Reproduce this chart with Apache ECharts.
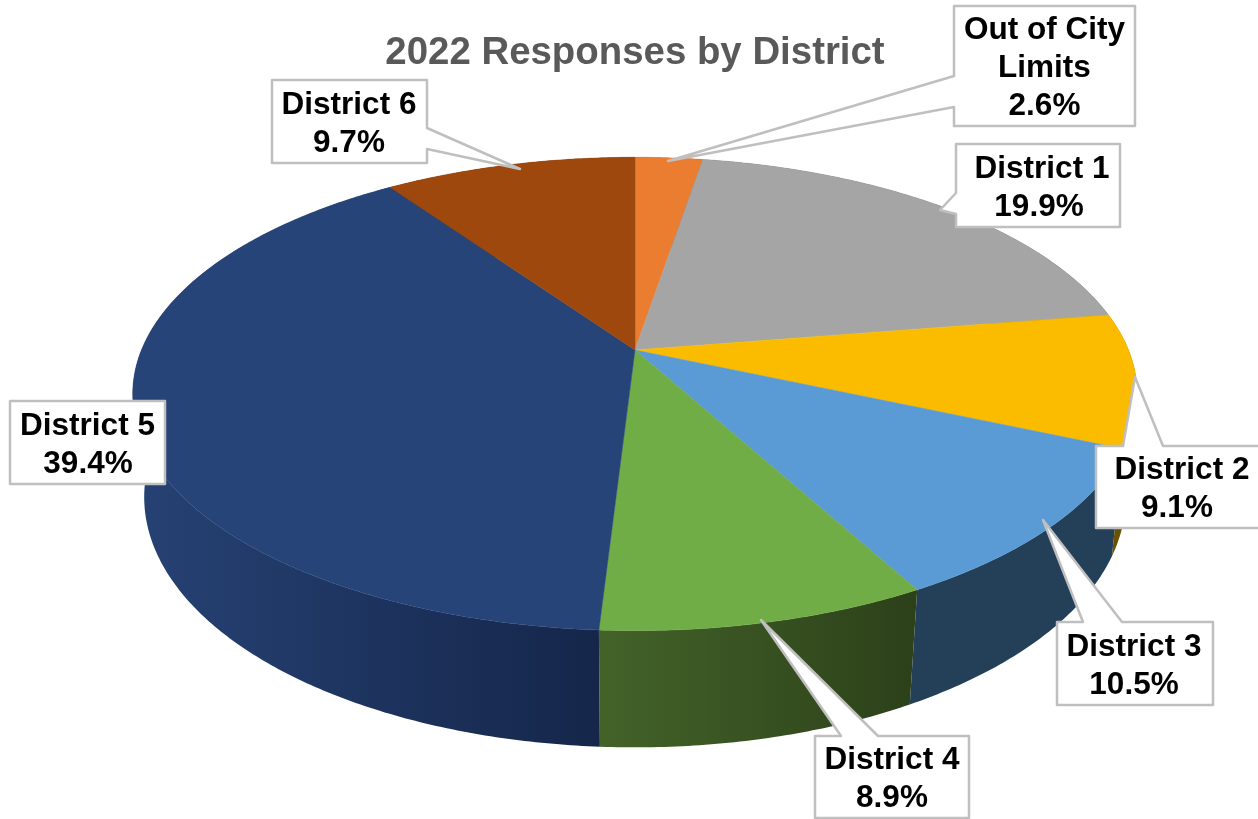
<!DOCTYPE html>
<html>
<head>
<meta charset="utf-8">
<style>html,body{margin:0;padding:0;background:#fff}#chart{width:1258px;height:819px}</style>
<script src="https://cdn.jsdelivr.net/npm/echarts@6/dist/echarts.min.js"></script>
</head>
<body>
<div id="chart"></div>
<script>
// Data, clockwise from 12 o'clock
const categories = ['Out of City\nLimits', 'District 1', 'District 2', 'District 3', 'District 4', 'District 5', 'District 6'];
const shares = [2.6, 19.9, 9.1, 10.5, 8.9, 39.4, 9.7];
const chartTitle = '2022 Responses by District';

// Styles
const topColors = ['#EB7D31', '#A5A5A5', '#FBBC00', '#5B9BD5', '#70AD47', '#264478', '#9E480E'];
const wallColors = [
  ['#7a3f18', '#7a3f18'], ['#555555', '#555555'], ['#6b5000', '#6b5000'], ['#243F58', '#243F58'],
  ['#436329', '#2C4019'], ['#264274', '#15264A'], ['#4f2407', '#4f2407']
];

// Layout: perspective of the tilted disc
const cx = 635, cy = 350, scaleX = 493.5, scaleY = 228.5, persp = 0.1857, depthQ = 0.0225, depthC = 104;
// Callouts: box [x0,y0,x1,y1], text centres x, side of the wedge, wedge base [a,b], tip [x,y]
const boxes = [[954,6,1135,126],[956,144,1120,227],[1096,446,1268,528],[1057,622,1213,705],[815,736,969,818],[10,401,165,484],[272,80,427,163]];
const nameCentres = [1044.5, 1042, 1182, 1134, 892, 87.5, 349];
const shareCentres = [1044.5, 1039, 1177, 1134, 892, 88, 349];
const lineStep = 38;
const wedgeSides = ['left','left','top','top','top',null,'right'];
const wedgeBases = [[76,107],[193,214],[1123,1163],[1083,1122],[841,878],null,[128,149]];
const wedgeTips = [[668,161],[940,210],[1135,377],[1043,520],[761,620],null,[520,169]];

const total = shares.reduce((a, b) => a + b, 0);
const starts = [];
shares.reduce((acc, v, i) => { starts[i] = acc; return acc + v; }, 0);

function project(theta, lower) {
  const u = Math.sin(theta), v = -Math.cos(theta);
  const d = 1 - persp * v + (lower ? depthQ : 0);
  return [cx + scaleX * u / d, cy + (scaleY * v + (lower ? depthC : 0)) / d];
}
function arc(a0, a1, lower) {
  const pts = [], n = Math.max(2, Math.ceil((a1 - a0) / 0.01));
  for (let k = 0; k <= n; k++) pts.push(project(a0 + (a1 - a0) * k / n, lower));
  return pts;
}
function angles(i) {
  return [starts[i] / total * 2 * Math.PI, (starts[i] + shares[i]) / total * 2 * Math.PI];
}
const seriesData = shares.map((v, i) => ({ name: categories[i], value: v }));

function renderWall(params) {
  const i = params.dataIndex, [a0, a1] = angles(i);
  const pts = arc(a0, a1, false).concat(arc(a0, a1, true).reverse());
  return {
    type: 'polygon', shape: { points: pts },
    style: {
      fill: new echarts.graphic.LinearGradient(0, 0, 1, 0, [
        { offset: 0, color: wallColors[i][0] }, { offset: 1, color: wallColors[i][1] }
      ])
    }
  };
}
function renderTop(params) {
  const i = params.dataIndex, [a0, a1] = angles(i);
  return {
    type: 'polygon', shape: { points: [[cx, cy]].concat(arc(a0, a1, false)) },
    style: { fill: topColors[i], stroke: topColors[i], lineWidth: 0.5 }
  };
}
function calloutOutline(i) {
  const [x0, y0, x1, y1] = boxes[i], side = wedgeSides[i], b = wedgeBases[i], t = wedgeTips[i];
  if (side === 'top') return [[x0,y0],[b[0],y0],t,[b[1],y0],[x1,y0],[x1,y1],[x0,y1]];
  if (side === 'left') return [[x0,y0],[x1,y0],[x1,y1],[x0,y1],[x0,b[1]],t,[x0,b[0]]];
  if (side === 'right') return [[x0,y0],[x1,y0],[x1,b[0]],t,[x1,b[1]],[x1,y1],[x0,y1]];
  return [[x0,y0],[x1,y0],[x1,y1],[x0,y1]];
}
function renderCallout(params, api) {
  const i = params.dataIndex, b = boxes[i];
  const nameLines = categories[i].split('\n').length;
  const midY = (b[1] + b[3]) / 2 + 2.5;
  const shareY = midY + nameLines * lineStep / 2;
  const nameY = midY - lineStep / 2;
  const font = 'bold 31.5px "Liberation Sans", Arial, sans-serif';
  return {
    type: 'group',
    children: [
      { type: 'polygon', shape: { points: calloutOutline(i) },
        style: { fill: '#fff', stroke: '#BFBFBF', lineWidth: 2.5, lineJoin: 'round' } },
      { type: 'text', x: nameCentres[i], y: nameY,
        style: { text: categories[i], fill: '#000', font, lineHeight: lineStep, align: 'center', verticalAlign: 'middle' } },
      { type: 'text', x: shareCentres[i], y: shareY,
        style: { text: api.value(0).toFixed(1) + '%', fill: '#000', font, lineHeight: lineStep, align: 'center', verticalAlign: 'middle' } }
    ]
  };
}

const chart = echarts.init(document.getElementById('chart'));
chart.setOption({
  animation: false,
  backgroundColor: '#fff',
  tooltip: { show: false },
  title: {
    text: chartTitle, left: 630, top: 29, textAlign: 'center',
    textStyle: { color: '#595959', fontWeight: 'bold', fontSize: 38.4, fontFamily: '"Liberation Sans", Arial, sans-serif' }
  },
  series: [
    { type: 'custom', coordinateSystem: 'none', silent: true, z: 1, encode: { value: 0 }, data: seriesData, renderItem: renderWall },
    { type: 'custom', coordinateSystem: 'none', silent: true, z: 2, encode: { value: 0 }, data: seriesData, renderItem: renderTop },
    { type: 'custom', coordinateSystem: 'none', silent: true, z: 3, encode: { value: 0 }, data: seriesData, renderItem: renderCallout }
  ]
});
</script>
</body>
</html>
